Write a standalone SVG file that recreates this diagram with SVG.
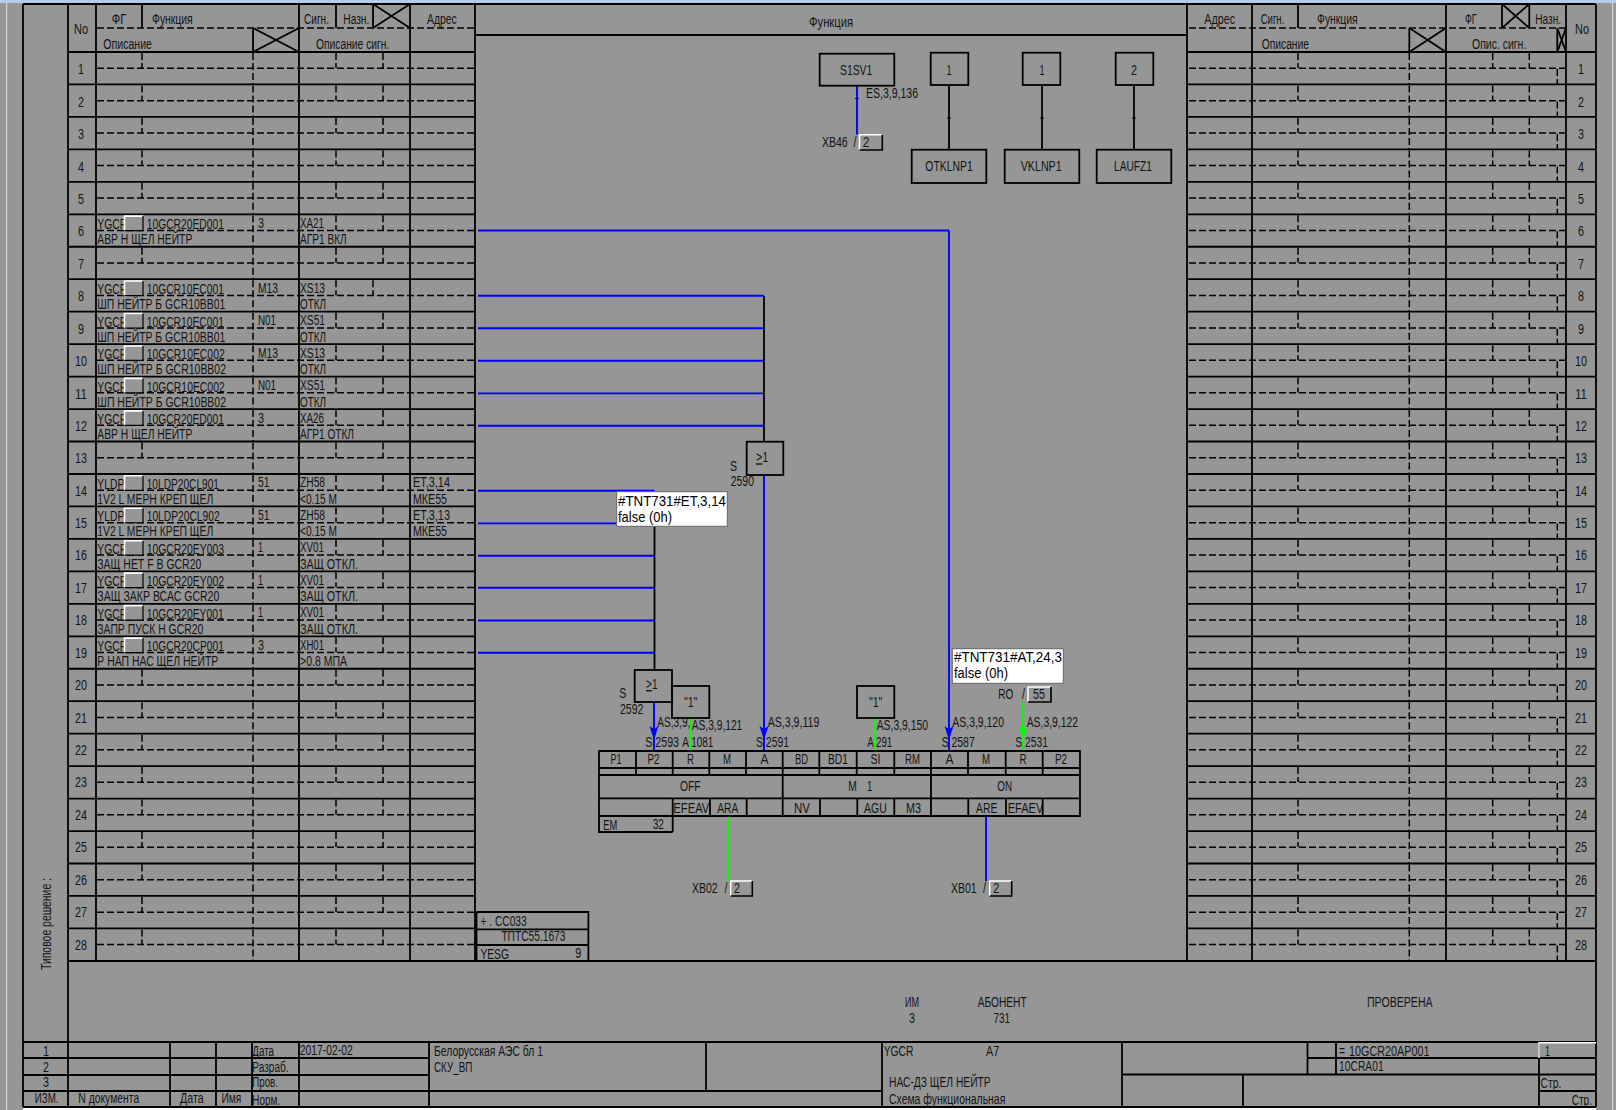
<svg xmlns="http://www.w3.org/2000/svg" xmlns:xlink="http://www.w3.org/1999/xlink" width="1616" height="1110" viewBox="0 0 1616 1110">
<style>
text{font-family:"Liberation Sans",Arial,sans-serif;font-size:14px;fill:#141414}
.m{text-anchor:middle}
.s{stroke:#000;stroke-width:1.8;fill:none}
.d{stroke:#000;stroke-width:1.5;fill:none;stroke-dasharray:7 3}
.b{stroke:#0000ff;stroke-width:1.9;fill:none}
.g{stroke:#00ff00;stroke-width:1.9;fill:none}
.tip{fill:#fff;stroke:#666;stroke-width:1}
.tt{fill:#000;font-size:14px}
</style>
<defs>
<g id="rowC">
<path class="s" d="M68 32.46H475"/>
<path class="d" d="M97 16.2H474M142 1V16M336 1V16M253 1V32"/>
</g>
<g id="rowL"><use href="#rowC"/><path class="d" d="M383 1V16"/></g>
<g id="rowL8"><use href="#rowC"/><path class="d" d="M373 1V16"/></g>
<g id="rowR">
<path class="s" d="M1187 32.46H1596"/>
<path class="d" d="M1189 16.2H1566M1298 1V16M1409.3 1V32M1492.7 1V16M1529.3 1V16M1557.3 17V32"/>
</g>
<g id="btn">
<rect x="124.5" y="1.8" width="18.5" height="14.5" fill="#969696"/>
<path d="M124.5 16.3V1.8H143" stroke="#fff" stroke-width="1.6" fill="none"/>
<path d="M143 1.8V16.3H124.5" stroke="#000" stroke-width="1.2" fill="none"/>
</g>
<marker id="ab" markerUnits="userSpaceOnUse" markerWidth="16" markerHeight="12" viewBox="-15 -6 16 12" refX="0" refY="0" orient="auto"><path d="M0 0L-14 -4.5L-11.5 -1V1L-14 4.5Z" fill="#0000ff"/></marker>
<marker id="ag" markerUnits="userSpaceOnUse" markerWidth="16" markerHeight="12" viewBox="-15 -6 16 12" refX="0" refY="0" orient="auto"><path d="M0 0L-14 -4.5L-11.5 -1V1L-14 4.5Z" fill="#00ff00"/></marker>
</defs>

<rect width="1616" height="1110" fill="#969696"/>
<rect width="1616" height="3" fill="#b6cde6"/>
<rect x="6" y="3" width="1.2" height="1107" fill="#d4d4d4"/>
<rect x="1612" y="3" width="1.2" height="1107" fill="#d4d4d4"/>
<rect x="23" y="1107" width="1573" height="3" fill="#fff"/>

<g id="grid">
<use href="#rowL" y="52"/><use href="#rowL" y="84.46"/><use href="#rowL" y="116.92"/><use href="#rowL" y="149.38"/><use href="#rowL" y="181.84"/><use href="#rowL" y="214.3"/><use href="#rowL" y="246.76"/><use href="#rowL8" y="279.22"/><use href="#rowL" y="311.68"/><use href="#rowL" y="344.14"/><use href="#rowL" y="376.6"/><use href="#rowL" y="409.06"/><use href="#rowL" y="441.52"/><use href="#rowL" y="473.98"/><use href="#rowL" y="506.44"/><use href="#rowL" y="538.9"/><use href="#rowL" y="571.36"/><use href="#rowL" y="603.82"/><use href="#rowL" y="636.28"/><use href="#rowL" y="668.74"/><use href="#rowL" y="701.2"/><use href="#rowL" y="733.66"/><use href="#rowL" y="766.12"/><use href="#rowL" y="798.58"/><use href="#rowL" y="831.04"/><use href="#rowL" y="863.5"/><use href="#rowL" y="895.96"/><use href="#rowL" y="928.42"/>
<use href="#rowR" y="52"/><use href="#rowR" y="84.46"/><use href="#rowR" y="116.92"/><use href="#rowR" y="149.38"/><use href="#rowR" y="181.84"/><use href="#rowR" y="214.3"/><use href="#rowR" y="246.76"/><use href="#rowR" y="279.22"/><use href="#rowR" y="311.68"/><use href="#rowR" y="344.14"/><use href="#rowR" y="376.6"/><use href="#rowR" y="409.06"/><use href="#rowR" y="441.52"/><use href="#rowR" y="473.98"/><use href="#rowR" y="506.44"/><use href="#rowR" y="538.9"/><use href="#rowR" y="571.36"/><use href="#rowR" y="603.82"/><use href="#rowR" y="636.28"/><use href="#rowR" y="668.74"/><use href="#rowR" y="701.2"/><use href="#rowR" y="733.66"/><use href="#rowR" y="766.12"/><use href="#rowR" y="798.58"/><use href="#rowR" y="831.04"/><use href="#rowR" y="863.5"/><use href="#rowR" y="895.96"/><use href="#rowR" y="928.42"/>
<path class="s" d="M23 4H1596M23 4V1107M1596 4V1107M68 4V1107M96 4V961M299 4V961M410 4V961M475 4V961M1187 4V961M1252 4V961M1446 4V961M1566 4V961M68 52H475M1187 52H1596M475 35H1187M68 961H1596"/>
<path class="s" d="M142 4V28M336 4V28M373 4V28M253 28V52M253 28L299 52M299 28L253 52M373 28L410 4M373 4L410 28"/>
<path class="d" d="M97 28H474M1189 28H1566"/>
<path class="s" d="M1298 4V28M1502 4V28M1529.3 4V28M1502 4L1529.3 28M1529.3 4L1502 28M1409.3 28V52M1409.3 28L1446 52M1446 28L1409.3 52M1557.3 28V52M1557.3 28L1566 52M1566 28L1557.3 52"/>
<!-- title block -->
<path class="s" d="M23 1042H1596M23 1058H429M23 1075H429M23 1091H882M170 1042V1107M216 1042V1107M252 1042V1107M299 1042V1107M429 1042V1107M706 1042V1091M882 1042V1107M1122 1042V1107M1122 1074.5H1596M1243 1074.5V1107M1307.5 1042V1074.5M1336 1042V1074.5M1307.5 1058H1596M1539 1042V1107M1539 1091H1596M23 1107H1596"/>
<path d="M1539 1058V1042.8H1596" stroke="#fff" stroke-width="1.5" fill="none"/>
</g>

<g id="headers">
<text x="74" y="34" textLength="14" lengthAdjust="spacingAndGlyphs">No</text>
<text x="111.7" y="23.5" textLength="14.5" lengthAdjust="spacingAndGlyphs">ФГ</text>
<text x="152" y="23.5" textLength="40.7" lengthAdjust="spacingAndGlyphs">Функция</text>
<text x="304" y="23.5" textLength="25" lengthAdjust="spacingAndGlyphs">Сигн.</text>
<text x="343.3" y="23.5" textLength="26" lengthAdjust="spacingAndGlyphs">Назн.</text>
<text x="427" y="23.5" textLength="29.7" lengthAdjust="spacingAndGlyphs">Адрес</text>
<text x="103.3" y="49" textLength="48.7" lengthAdjust="spacingAndGlyphs">Описание</text>
<text x="316" y="49" textLength="73.3" lengthAdjust="spacingAndGlyphs">Описание сигн.</text>
<text x="809" y="27" textLength="44" lengthAdjust="spacingAndGlyphs">Функция</text>
<text x="1204.3" y="23.5" textLength="30.7" lengthAdjust="spacingAndGlyphs">Адрес</text>
<text x="1260.7" y="23.5" textLength="23.6" lengthAdjust="spacingAndGlyphs">Сигн.</text>
<text x="1317" y="23.5" textLength="40.7" lengthAdjust="spacingAndGlyphs">Функция</text>
<text x="1465" y="23.5" textLength="11.7" lengthAdjust="spacingAndGlyphs">ФГ</text>
<text x="1535.3" y="23.5" textLength="25.7" lengthAdjust="spacingAndGlyphs">Назн.</text>
<text x="1575" y="34" textLength="14" lengthAdjust="spacingAndGlyphs">No</text>
<text x="1261.7" y="49" textLength="47.3" lengthAdjust="spacingAndGlyphs">Описание</text>
<text x="1472" y="49" textLength="54.3" lengthAdjust="spacingAndGlyphs">Опис. сигн.</text>
</g>

<g id="row-numbers" class="m">
<text class="m" x="81" y="74" textLength="6" lengthAdjust="spacingAndGlyphs">1</text><text class="m" x="81" y="106.5" textLength="6" lengthAdjust="spacingAndGlyphs">2</text><text class="m" x="81" y="139" textLength="6" lengthAdjust="spacingAndGlyphs">3</text><text class="m" x="81" y="172" textLength="6" lengthAdjust="spacingAndGlyphs">4</text><text class="m" x="81" y="203.8" textLength="6" lengthAdjust="spacingAndGlyphs">5</text><text class="m" x="81" y="236.3" textLength="6" lengthAdjust="spacingAndGlyphs">6</text><text class="m" x="81" y="268.8" textLength="6" lengthAdjust="spacingAndGlyphs">7</text><text class="m" x="81" y="301.2" textLength="6" lengthAdjust="spacingAndGlyphs">8</text><text class="m" x="81" y="333.7" textLength="6" lengthAdjust="spacingAndGlyphs">9</text><text class="m" x="81" y="366.1" textLength="12" lengthAdjust="spacingAndGlyphs">10</text><text class="m" x="81" y="398.6" textLength="12" lengthAdjust="spacingAndGlyphs">11</text><text class="m" x="81" y="431" textLength="12" lengthAdjust="spacingAndGlyphs">12</text><text class="m" x="81" y="463" textLength="12" lengthAdjust="spacingAndGlyphs">13</text><text class="m" x="81" y="495.5" textLength="12" lengthAdjust="spacingAndGlyphs">14</text><text class="m" x="81" y="528" textLength="12" lengthAdjust="spacingAndGlyphs">15</text><text class="m" x="81" y="560.4" textLength="12" lengthAdjust="spacingAndGlyphs">16</text><text class="m" x="81" y="592.8" textLength="12" lengthAdjust="spacingAndGlyphs">17</text><text class="m" x="81" y="625.3" textLength="12" lengthAdjust="spacingAndGlyphs">18</text><text class="m" x="81" y="657.8" textLength="12" lengthAdjust="spacingAndGlyphs">19</text><text class="m" x="81" y="690" textLength="12" lengthAdjust="spacingAndGlyphs">20</text><text class="m" x="81" y="722.5" textLength="12" lengthAdjust="spacingAndGlyphs">21</text><text class="m" x="81" y="755" textLength="12" lengthAdjust="spacingAndGlyphs">22</text><text class="m" x="81" y="787.4" textLength="12" lengthAdjust="spacingAndGlyphs">23</text><text class="m" x="81" y="819.8" textLength="12" lengthAdjust="spacingAndGlyphs">24</text><text class="m" x="81" y="852.4" textLength="12" lengthAdjust="spacingAndGlyphs">25</text><text class="m" x="81" y="884.8" textLength="12" lengthAdjust="spacingAndGlyphs">26</text><text class="m" x="81" y="917.2" textLength="12" lengthAdjust="spacingAndGlyphs">27</text><text class="m" x="81" y="949.7" textLength="12" lengthAdjust="spacingAndGlyphs">28</text>
<text class="m" x="1581" y="74" textLength="6" lengthAdjust="spacingAndGlyphs">1</text><text class="m" x="1581" y="106.5" textLength="6" lengthAdjust="spacingAndGlyphs">2</text><text class="m" x="1581" y="139" textLength="6" lengthAdjust="spacingAndGlyphs">3</text><text class="m" x="1581" y="172" textLength="6" lengthAdjust="spacingAndGlyphs">4</text><text class="m" x="1581" y="203.8" textLength="6" lengthAdjust="spacingAndGlyphs">5</text><text class="m" x="1581" y="236.3" textLength="6" lengthAdjust="spacingAndGlyphs">6</text><text class="m" x="1581" y="268.8" textLength="6" lengthAdjust="spacingAndGlyphs">7</text><text class="m" x="1581" y="301.2" textLength="6" lengthAdjust="spacingAndGlyphs">8</text><text class="m" x="1581" y="333.7" textLength="6" lengthAdjust="spacingAndGlyphs">9</text><text class="m" x="1581" y="366.1" textLength="12" lengthAdjust="spacingAndGlyphs">10</text><text class="m" x="1581" y="398.6" textLength="12" lengthAdjust="spacingAndGlyphs">11</text><text class="m" x="1581" y="431" textLength="12" lengthAdjust="spacingAndGlyphs">12</text><text class="m" x="1581" y="463" textLength="12" lengthAdjust="spacingAndGlyphs">13</text><text class="m" x="1581" y="495.5" textLength="12" lengthAdjust="spacingAndGlyphs">14</text><text class="m" x="1581" y="528" textLength="12" lengthAdjust="spacingAndGlyphs">15</text><text class="m" x="1581" y="560.4" textLength="12" lengthAdjust="spacingAndGlyphs">16</text><text class="m" x="1581" y="592.8" textLength="12" lengthAdjust="spacingAndGlyphs">17</text><text class="m" x="1581" y="625.3" textLength="12" lengthAdjust="spacingAndGlyphs">18</text><text class="m" x="1581" y="657.8" textLength="12" lengthAdjust="spacingAndGlyphs">19</text><text class="m" x="1581" y="690" textLength="12" lengthAdjust="spacingAndGlyphs">20</text><text class="m" x="1581" y="722.5" textLength="12" lengthAdjust="spacingAndGlyphs">21</text><text class="m" x="1581" y="755" textLength="12" lengthAdjust="spacingAndGlyphs">22</text><text class="m" x="1581" y="787.4" textLength="12" lengthAdjust="spacingAndGlyphs">23</text><text class="m" x="1581" y="819.8" textLength="12" lengthAdjust="spacingAndGlyphs">24</text><text class="m" x="1581" y="852.4" textLength="12" lengthAdjust="spacingAndGlyphs">25</text><text class="m" x="1581" y="884.8" textLength="12" lengthAdjust="spacingAndGlyphs">26</text><text class="m" x="1581" y="917.2" textLength="12" lengthAdjust="spacingAndGlyphs">27</text><text class="m" x="1581" y="949.7" textLength="12" lengthAdjust="spacingAndGlyphs">28</text>
</g>

<g id="row6" transform="translate(0,214.3)"><text x="97.3" y="15" textLength="30" lengthAdjust="spacingAndGlyphs">YGCR</text><use href="#btn"/><text x="146.7" y="15" textLength="77.3" lengthAdjust="spacingAndGlyphs">10GCR20ED001</text><text x="97.3" y="30" textLength="95" lengthAdjust="spacingAndGlyphs">АВР Н ЩЕЛ НЕЙТР</text><text x="258" y="13.5" textLength="6" lengthAdjust="spacingAndGlyphs">3</text><text x="300" y="13.5" textLength="24" lengthAdjust="spacingAndGlyphs">XA21</text><text x="300" y="30" textLength="46.7" lengthAdjust="spacingAndGlyphs">АГР1 ВКЛ</text></g>
<g id="row8" transform="translate(0,279.22)"><text x="97.3" y="15" textLength="30" lengthAdjust="spacingAndGlyphs">YGCR</text><use href="#btn"/><text x="146.7" y="15" textLength="77.3" lengthAdjust="spacingAndGlyphs">10GCR10EC001</text><text x="97.3" y="30" textLength="128" lengthAdjust="spacingAndGlyphs">ШП НЕЙТР Б GCR10BB01</text><text x="258" y="13.5" textLength="20" lengthAdjust="spacingAndGlyphs">M13</text><text x="300" y="13.5" textLength="25" lengthAdjust="spacingAndGlyphs">XS13</text><text x="300" y="30" textLength="26" lengthAdjust="spacingAndGlyphs">ОТКЛ</text></g>
<g id="row9" transform="translate(0,311.68)"><text x="97.3" y="15" textLength="30" lengthAdjust="spacingAndGlyphs">YGCR</text><use href="#btn"/><text x="146.7" y="15" textLength="77.3" lengthAdjust="spacingAndGlyphs">10GCR10EC001</text><text x="97.3" y="30" textLength="128" lengthAdjust="spacingAndGlyphs">ШП НЕЙТР Б GCR10BB01</text><text x="258" y="13.5" textLength="18" lengthAdjust="spacingAndGlyphs">N01</text><text x="300" y="13.5" textLength="25" lengthAdjust="spacingAndGlyphs">XS51</text><text x="300" y="30" textLength="26" lengthAdjust="spacingAndGlyphs">ОТКЛ</text></g>
<g id="row10" transform="translate(0,344.14)"><text x="97.3" y="15" textLength="30" lengthAdjust="spacingAndGlyphs">YGCR</text><use href="#btn"/><text x="146.7" y="15" textLength="78" lengthAdjust="spacingAndGlyphs">10GCR10EC002</text><text x="97.3" y="30" textLength="128.7" lengthAdjust="spacingAndGlyphs">ШП НЕЙТР Б GCR10BB02</text><text x="258" y="13.5" textLength="20" lengthAdjust="spacingAndGlyphs">M13</text><text x="300" y="13.5" textLength="25" lengthAdjust="spacingAndGlyphs">XS13</text><text x="300" y="30" textLength="26" lengthAdjust="spacingAndGlyphs">ОТКЛ</text></g>
<g id="row11" transform="translate(0,376.6)"><text x="97.3" y="15" textLength="30" lengthAdjust="spacingAndGlyphs">YGCR</text><use href="#btn"/><text x="146.7" y="15" textLength="78" lengthAdjust="spacingAndGlyphs">10GCR10EC002</text><text x="97.3" y="30" textLength="128.7" lengthAdjust="spacingAndGlyphs">ШП НЕЙТР Б GCR10BB02</text><text x="258" y="13.5" textLength="18" lengthAdjust="spacingAndGlyphs">N01</text><text x="300" y="13.5" textLength="25" lengthAdjust="spacingAndGlyphs">XS51</text><text x="300" y="30" textLength="26" lengthAdjust="spacingAndGlyphs">ОТКЛ</text></g>
<g id="row12" transform="translate(0,409.06)"><text x="97.3" y="15" textLength="30" lengthAdjust="spacingAndGlyphs">YGCR</text><use href="#btn"/><text x="146.7" y="15" textLength="77.3" lengthAdjust="spacingAndGlyphs">10GCR20ED001</text><text x="97.3" y="30" textLength="95" lengthAdjust="spacingAndGlyphs">АВР Н ЩЕЛ НЕЙТР</text><text x="258" y="13.5" textLength="6" lengthAdjust="spacingAndGlyphs">3</text><text x="300" y="13.5" textLength="24" lengthAdjust="spacingAndGlyphs">XA26</text><text x="300" y="30" textLength="54" lengthAdjust="spacingAndGlyphs">АГР1 ОТКЛ</text></g>
<g id="row14" transform="translate(0,473.98)"><text x="97.3" y="15" textLength="27" lengthAdjust="spacingAndGlyphs">YLDP</text><use href="#btn"/><text x="146.7" y="15" textLength="72.3" lengthAdjust="spacingAndGlyphs">10LDP20CL901</text><text x="97.3" y="30" textLength="116" lengthAdjust="spacingAndGlyphs">1V2 L МЕРН КРЕП ЩЕЛ</text><text x="258" y="13.5" textLength="11.5" lengthAdjust="spacingAndGlyphs">51</text><text x="300" y="13.5" textLength="25" lengthAdjust="spacingAndGlyphs">ZH58</text><text x="300" y="30" textLength="37" lengthAdjust="spacingAndGlyphs">&lt;0.15 М</text><text x="413" y="13.5" textLength="37" lengthAdjust="spacingAndGlyphs">ET,3,14</text><text x="413" y="30" textLength="34" lengthAdjust="spacingAndGlyphs">МКЕ55</text></g>
<g id="row15" transform="translate(0,506.44)"><text x="97.3" y="15" textLength="27" lengthAdjust="spacingAndGlyphs">YLDP</text><use href="#btn"/><text x="146.7" y="15" textLength="73" lengthAdjust="spacingAndGlyphs">10LDP20CL902</text><text x="97.3" y="30" textLength="116" lengthAdjust="spacingAndGlyphs">1V2 L МЕРН КРЕП ЩЕЛ</text><text x="258" y="13.5" textLength="11.5" lengthAdjust="spacingAndGlyphs">51</text><text x="300" y="13.5" textLength="25" lengthAdjust="spacingAndGlyphs">ZH58</text><text x="300" y="30" textLength="37" lengthAdjust="spacingAndGlyphs">&lt;0.15 М</text><text x="413" y="13.5" textLength="37" lengthAdjust="spacingAndGlyphs">ET,3,13</text><text x="413" y="30" textLength="34" lengthAdjust="spacingAndGlyphs">МКЕ55</text></g>
<g id="row16" transform="translate(0,538.9)"><text x="97.3" y="15" textLength="30" lengthAdjust="spacingAndGlyphs">YGCR</text><use href="#btn"/><text x="146.7" y="15" textLength="77.3" lengthAdjust="spacingAndGlyphs">10GCR20EY003</text><text x="97.3" y="30" textLength="104" lengthAdjust="spacingAndGlyphs">ЗАЩ НЕТ F В GCR20</text><text x="258" y="13.5" textLength="5" lengthAdjust="spacingAndGlyphs">1</text><text x="300" y="13.5" textLength="24" lengthAdjust="spacingAndGlyphs">XV01</text><text x="300" y="30" textLength="58" lengthAdjust="spacingAndGlyphs">ЗАЩ ОТКЛ.</text></g>
<g id="row17" transform="translate(0,571.36)"><text x="97.3" y="15" textLength="30" lengthAdjust="spacingAndGlyphs">YGCR</text><use href="#btn"/><text x="146.7" y="15" textLength="77.3" lengthAdjust="spacingAndGlyphs">10GCR20EY002</text><text x="97.3" y="30" textLength="122" lengthAdjust="spacingAndGlyphs">ЗАЩ ЗАКР ВСАС GCR20</text><text x="258" y="13.5" textLength="5" lengthAdjust="spacingAndGlyphs">1</text><text x="300" y="13.5" textLength="24" lengthAdjust="spacingAndGlyphs">XV01</text><text x="300" y="30" textLength="58" lengthAdjust="spacingAndGlyphs">ЗАЩ ОТКЛ.</text></g>
<g id="row18" transform="translate(0,603.82)"><text x="97.3" y="15" textLength="30" lengthAdjust="spacingAndGlyphs">YGCR</text><use href="#btn"/><text x="146.7" y="15" textLength="77" lengthAdjust="spacingAndGlyphs">10GCR20EY001</text><text x="97.3" y="30" textLength="106" lengthAdjust="spacingAndGlyphs">ЗАПР ПУСК Н GCR20</text><text x="258" y="13.5" textLength="5" lengthAdjust="spacingAndGlyphs">1</text><text x="300" y="13.5" textLength="24" lengthAdjust="spacingAndGlyphs">XV01</text><text x="300" y="30" textLength="58" lengthAdjust="spacingAndGlyphs">ЗАЩ ОТКЛ.</text></g>
<g id="row19" transform="translate(0,636.28)"><text x="97.3" y="15" textLength="30" lengthAdjust="spacingAndGlyphs">YGCR</text><use href="#btn"/><text x="146.7" y="15" textLength="77.3" lengthAdjust="spacingAndGlyphs">10GCR20CP001</text><text x="97.3" y="30" textLength="121" lengthAdjust="spacingAndGlyphs">Р НАП НАС ЩЕЛ НЕЙТР</text><text x="258" y="13.5" textLength="6" lengthAdjust="spacingAndGlyphs">3</text><text x="300" y="13.5" textLength="24" lengthAdjust="spacingAndGlyphs">XH01</text><text x="300" y="30" textLength="47" lengthAdjust="spacingAndGlyphs">&gt;0.8 МПА</text></g>

<g id="connectors">
<path class="s" d="M764 296V442M654.5 491V670M949 85V150M1042 85V150M1134 85V150"/>
<path class="s" style="stroke-width:1" d="M947 118H951M1040 118H1044M1132 118H1136M855 98.5H859"/>
<path class="b" d="M478 230.5H949M478 295.7H764M478 328.2H764M478 360.7H764M478 393.4H764M478 425.7H764M478 490.7H654.5M478 523.4H654.5M478 555.7H654.5M478 587.8H654.5M478 620.5H654.5M478 652.7H654.5"/>
<polyline class="b" points="949,230.5 949,740 949,751" marker-mid="url(#ab)"/>
<polyline class="b" points="764,475 764,740 764,751" marker-mid="url(#ab)"/>
<polyline class="b" points="654,702 654,740 654,751" marker-mid="url(#ab)"/>
<polyline class="g" points="1023,702 1023,740 1023,751" marker-mid="url(#ag)"/>
<path class="g" d="M690.7 718V751M875 718V751M728 816V881"/>
<path class="b" d="M986 816V881M857 86V134.5"/>
</g>

<g id="node-S1SV1"><rect class="s" x="819.7" y="53.7" width="74.6" height="32"/><text x="840" y="74.7" textLength="32.3" lengthAdjust="spacingAndGlyphs">S1SV1</text></g>
<g id="node-k1"><rect class="s" x="930.7" y="52.7" width="37.6" height="32.3"/><text class="m" x="949" y="74.5" textLength="5" lengthAdjust="spacingAndGlyphs">1</text></g>
<g id="node-k2"><rect class="s" x="1022.7" y="52.7" width="37.6" height="32.3"/><text class="m" x="1042" y="74.5" textLength="5" lengthAdjust="spacingAndGlyphs">1</text></g>
<g id="node-k3"><rect class="s" x="1115.7" y="52.7" width="37.6" height="32.3"/><text class="m" x="1134" y="74.5" textLength="6" lengthAdjust="spacingAndGlyphs">2</text></g>
<g id="node-OTKLNP1"><rect class="s" x="911.7" y="149.7" width="74.6" height="33.3"/><text x="925.3" y="171.3" textLength="47.4" lengthAdjust="spacingAndGlyphs">OTKLNP1</text></g>
<g id="node-VKLNP1"><rect class="s" x="1004.7" y="149.7" width="74.6" height="33.3"/><text x="1020.7" y="171.3" textLength="41" lengthAdjust="spacingAndGlyphs">VKLNP1</text></g>
<g id="node-LAUFZ1"><rect class="s" x="1096.7" y="149.7" width="74.6" height="33.3"/><text x="1114" y="171.3" textLength="38" lengthAdjust="spacingAndGlyphs">LAUFZ1</text></g>
<g id="node-XB46"><text x="866" y="98" textLength="52" lengthAdjust="spacingAndGlyphs">ES,3,9,136</text><text x="822" y="146.7" textLength="25.7" lengthAdjust="spacingAndGlyphs">XB46</text><text x="853.5" y="146.7" textLength="3" lengthAdjust="spacingAndGlyphs">/</text><path d="M859.5 150V134.8H882.3" stroke="#fff" stroke-width="1.5" fill="none"/><path d="M882.3 134.8V150H859.5" stroke="#000" stroke-width="1.6" fill="none"/><text x="862.7" y="146.7" textLength="6.6" lengthAdjust="spacingAndGlyphs">2</text></g>

<g id="node-or2590"><rect class="s" x="746.7" y="441.7" width="36.6" height="33.3"/><text x="756" y="462.3" textLength="12.3" lengthAdjust="spacingAndGlyphs"><tspan text-decoration="underline">&gt;</tspan>1</text><text x="730" y="470.7" textLength="7" lengthAdjust="spacingAndGlyphs">S</text><text x="730.7" y="485.7" textLength="23.3" lengthAdjust="spacingAndGlyphs">2590</text></g>
<g id="node-or2592"><rect class="s" x="634.7" y="670" width="37.3" height="32"/><text x="646" y="689" textLength="11.5" lengthAdjust="spacingAndGlyphs"><tspan text-decoration="underline">&gt;</tspan>1</text><text x="619.3" y="698" textLength="7" lengthAdjust="spacingAndGlyphs">S</text><text x="620" y="714" textLength="23.3" lengthAdjust="spacingAndGlyphs">2592</text></g>
<g id="node-const1"><rect class="s" x="672" y="686" width="37.3" height="32"/><text x="684" y="706.7" textLength="13.3" lengthAdjust="spacingAndGlyphs">"1"</text></g>
<g id="node-const2"><rect class="s" x="857" y="686" width="37.3" height="32"/><text x="869" y="706.7" textLength="13.3" lengthAdjust="spacingAndGlyphs">"1"</text></g>

<g id="node-block">
<path class="s" d="M599 751H1080V816H599ZM599 768H1080M599 775H1080M599 798.3H1080M636 751V775M672.7 751V775M709.3 751V775M746 751V775M782.7 751V816M819.3 751V775M856.7 751V775M894.3 751V775M931 751V816M968 751V775M1005.7 751V775M1042.7 751V775M672.7 798.3V832M710 798.3V816M746.7 798.3V816M820 798.3V816M857.3 798.3V816M894.3 798.3V816M968.3 798.3V816M1006 798.3V816M1042.7 798.3V816M599 816V832H672.7"/>
<text class="m" x="616" y="764" textLength="11" lengthAdjust="spacingAndGlyphs">P1</text><text class="m" x="653.5" y="764" textLength="12" lengthAdjust="spacingAndGlyphs">P2</text><text class="m" x="690.5" y="764" textLength="7" lengthAdjust="spacingAndGlyphs">R</text><text class="m" x="727" y="764" textLength="8" lengthAdjust="spacingAndGlyphs">M</text><text class="m" x="764.5" y="764" textLength="8" lengthAdjust="spacingAndGlyphs">A</text><text class="m" x="801.5" y="764" textLength="13" lengthAdjust="spacingAndGlyphs">BD</text><text class="m" x="838" y="764" textLength="20" lengthAdjust="spacingAndGlyphs">BD1</text><text class="m" x="875.5" y="764" textLength="10" lengthAdjust="spacingAndGlyphs">SI</text><text class="m" x="912.5" y="764" textLength="15" lengthAdjust="spacingAndGlyphs">RM</text><text class="m" x="949.5" y="764" textLength="8" lengthAdjust="spacingAndGlyphs">A</text><text class="m" x="986" y="764" textLength="8" lengthAdjust="spacingAndGlyphs">M</text><text class="m" x="1023" y="764" textLength="7" lengthAdjust="spacingAndGlyphs">R</text><text class="m" x="1061" y="764" textLength="12" lengthAdjust="spacingAndGlyphs">P2</text>
<text x="680" y="791" textLength="20.7" lengthAdjust="spacingAndGlyphs">OFF</text><text x="848.3" y="791" textLength="8.5" lengthAdjust="spacingAndGlyphs">M</text><text x="867" y="791" textLength="5.3" lengthAdjust="spacingAndGlyphs">1</text><text x="997.3" y="791" textLength="14.7" lengthAdjust="spacingAndGlyphs">ON</text>
<text x="673.3" y="813.3" textLength="36" lengthAdjust="spacingAndGlyphs">EFEAV</text><text x="717.3" y="813.3" textLength="21" lengthAdjust="spacingAndGlyphs">ARA</text><text x="794" y="813.3" textLength="16" lengthAdjust="spacingAndGlyphs">NV</text><text x="864" y="813.3" textLength="22.7" lengthAdjust="spacingAndGlyphs">AGU</text><text x="906" y="813.3" textLength="15" lengthAdjust="spacingAndGlyphs">M3</text><text x="976" y="813.3" textLength="21.3" lengthAdjust="spacingAndGlyphs">ARE</text><text x="1007.7" y="813.3" textLength="35.6" lengthAdjust="spacingAndGlyphs">EFAEV</text>
<text x="603.3" y="830" textLength="14" lengthAdjust="spacingAndGlyphs">EM</text><text x="652.7" y="829" textLength="11.3" lengthAdjust="spacingAndGlyphs">32</text>
</g>

<g id="labels">
<text x="657.3" y="726.7" textLength="33" lengthAdjust="spacingAndGlyphs">AS,3,9,</text>
<text x="691.7" y="730" textLength="50.6" lengthAdjust="spacingAndGlyphs">AS,3,9,121</text>
<text x="645.3" y="746.7" textLength="33.7" lengthAdjust="spacingAndGlyphs">S 2593</text>
<text x="682.3" y="746.5" textLength="31" lengthAdjust="spacingAndGlyphs">A 1081</text>
<text x="767.7" y="726.7" textLength="51.6" lengthAdjust="spacingAndGlyphs">AS,3,9,119</text>
<text x="756" y="746.7" textLength="33" lengthAdjust="spacingAndGlyphs">S 2591</text>
<text x="876.7" y="730" textLength="51.3" lengthAdjust="spacingAndGlyphs">AS,3,9,150</text>
<text x="867.3" y="746.7" textLength="25" lengthAdjust="spacingAndGlyphs">A 291</text>
<text x="952.3" y="726.7" textLength="51.7" lengthAdjust="spacingAndGlyphs">AS,3,9,120</text>
<text x="941.7" y="746.7" textLength="33" lengthAdjust="spacingAndGlyphs">S 2587</text>
<text x="1026.7" y="726.7" textLength="51.3" lengthAdjust="spacingAndGlyphs">AS,3,9,122</text>
<text x="1015.3" y="746.7" textLength="32.7" lengthAdjust="spacingAndGlyphs">S 2531</text>
</g>
<g id="node-RO"><text x="998.3" y="699" textLength="15" lengthAdjust="spacingAndGlyphs">RO</text><text x="1022" y="699" textLength="3" lengthAdjust="spacingAndGlyphs">/</text><path d="M1028 702V687H1051" stroke="#fff" stroke-width="1.5" fill="none"/><path d="M1051 687V702H1028" stroke="#000" stroke-width="1.6" fill="none"/><text x="1033" y="699" textLength="12" lengthAdjust="spacingAndGlyphs">55</text></g>
<g id="node-XB02"><text x="692" y="892.7" textLength="25.7" lengthAdjust="spacingAndGlyphs">XB02</text><text x="724.5" y="892.7" textLength="3" lengthAdjust="spacingAndGlyphs">/</text><path d="M730.7 896V881H752.3" stroke="#fff" stroke-width="1.5" fill="none"/><path d="M752.3 881V896H730.7" stroke="#000" stroke-width="1.6" fill="none"/><text x="734" y="893" textLength="6" lengthAdjust="spacingAndGlyphs">2</text></g>
<g id="node-XB01"><text x="951" y="892.7" textLength="25.7" lengthAdjust="spacingAndGlyphs">XB01</text><text x="983" y="892.7" textLength="3" lengthAdjust="spacingAndGlyphs">/</text><path d="M989.7 896V881H1011.7" stroke="#fff" stroke-width="1.5" fill="none"/><path d="M1011.7 881V896H989.7" stroke="#000" stroke-width="1.6" fill="none"/><text x="993.3" y="893" textLength="6" lengthAdjust="spacingAndGlyphs">2</text></g>

<g id="node-stamp">
<path class="s" d="M476.5 912H588.4V961M476.5 912V961M476.5 929.3H588.4M476.5 945H588.4"/>
<text x="480.4" y="925.7" textLength="46.3" lengthAdjust="spacingAndGlyphs">+ . CC033</text>
<text x="501.4" y="941" textLength="64" lengthAdjust="spacingAndGlyphs">ТПТС55.1673</text>
<text x="480.4" y="959" textLength="28.6" lengthAdjust="spacingAndGlyphs">YESG</text>
<text x="575.3" y="957.7" textLength="6" lengthAdjust="spacingAndGlyphs">9</text>
</g>

<g id="tooltips">
<rect class="tip" x="616.7" y="491.7" width="110.6" height="34.6"/>
<text class="tt" x="618" y="505.5" textLength="108" lengthAdjust="spacingAndGlyphs">#TNT731#ET,3,14</text>
<text class="tt" x="618" y="521.5" textLength="54" lengthAdjust="spacingAndGlyphs">false (0h)</text>
<rect class="tip" x="952.3" y="648.7" width="111" height="34.6"/>
<text class="tt" x="954" y="661.7" textLength="108" lengthAdjust="spacingAndGlyphs">#TNT731#AT,24,3</text>
<text class="tt" x="954" y="678.3" textLength="54" lengthAdjust="spacingAndGlyphs">false (0h)</text>
</g>

<g id="title">
<text transform="translate(50.5,970) rotate(-90)" textLength="92" lengthAdjust="spacingAndGlyphs" font-size="13">Типовое решение :</text>
<text x="905" y="1006.7" textLength="14" lengthAdjust="spacingAndGlyphs">ИМ</text><text x="912" y="1023" class="m" textLength="6" lengthAdjust="spacingAndGlyphs">3</text>
<text x="977.7" y="1006.7" textLength="49" lengthAdjust="spacingAndGlyphs">АБОНЕНТ</text><text x="993.6" y="1023" textLength="16.4" lengthAdjust="spacingAndGlyphs">731</text>
<text x="1367" y="1006.7" textLength="65.6" lengthAdjust="spacingAndGlyphs">ПРОВЕРЕНА</text>
<text class="m" x="46" y="1055.7" textLength="6" lengthAdjust="spacingAndGlyphs">1</text><text class="m" x="46" y="1072" textLength="6" lengthAdjust="spacingAndGlyphs">2</text><text class="m" x="46" y="1087.3" textLength="6" lengthAdjust="spacingAndGlyphs">3</text>
<text x="34.8" y="1103.3" textLength="23.7" lengthAdjust="spacingAndGlyphs">ИЗМ.</text><text x="78.3" y="1103.3" textLength="60.9" lengthAdjust="spacingAndGlyphs">N документа</text><text x="180" y="1103.3" textLength="23.6" lengthAdjust="spacingAndGlyphs">Дата</text><text x="221.4" y="1103.3" textLength="19.8" lengthAdjust="spacingAndGlyphs">Имя</text>
<text x="252.3" y="1055.7" textLength="21.7" lengthAdjust="spacingAndGlyphs">Дата</text><text x="252.3" y="1072" textLength="36.3" lengthAdjust="spacingAndGlyphs">Разраб.</text><text x="252.3" y="1087.3" textLength="25.7" lengthAdjust="spacingAndGlyphs">Пров.</text><text x="252.3" y="1105" textLength="27.7" lengthAdjust="spacingAndGlyphs">Норм.</text>
<text x="299.7" y="1055.3" textLength="53" lengthAdjust="spacingAndGlyphs">2017-02-02</text>
<text x="434" y="1055.7" textLength="109" lengthAdjust="spacingAndGlyphs">Белорусская АЭС бл 1</text><text x="434" y="1071.7" textLength="38.3" lengthAdjust="spacingAndGlyphs">СКУ_ВП</text>
<text x="883.7" y="1056" textLength="29.8" lengthAdjust="spacingAndGlyphs">YGCR</text><text x="986" y="1056" textLength="13.3" lengthAdjust="spacingAndGlyphs">А7</text>
<text x="889" y="1086.7" textLength="101.7" lengthAdjust="spacingAndGlyphs">НАС-ДЗ ЩЕЛ НЕЙТР</text><text x="889" y="1104" textLength="116.3" lengthAdjust="spacingAndGlyphs">Схема функциональная</text>
<text x="1339" y="1056" textLength="6" lengthAdjust="spacingAndGlyphs">=</text><text x="1349" y="1056" textLength="80.4" lengthAdjust="spacingAndGlyphs">10GCR20AP001</text><text x="1339" y="1070.7" textLength="44.7" lengthAdjust="spacingAndGlyphs">10CRA01</text>
<text x="1545" y="1056" textLength="5" lengthAdjust="spacingAndGlyphs">1</text>
<text x="1540.6" y="1088" textLength="20.9" lengthAdjust="spacingAndGlyphs">Стр.</text><text x="1571.7" y="1105" textLength="20.3" lengthAdjust="spacingAndGlyphs">Стр.</text>
</g>
</svg>
